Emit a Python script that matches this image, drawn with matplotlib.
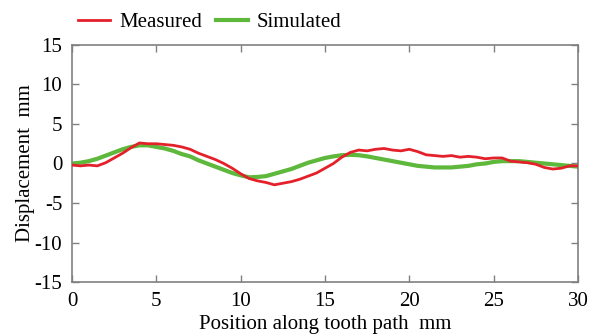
import matplotlib
matplotlib.use('Agg')
import matplotlib.pyplot as plt

plt.rcParams['font.family'] = ['Liberation Serif', 'DejaVu Serif']
plt.rcParams['axes.unicode_minus'] = False

# position along tooth path, mm (0.5 mm steps)
position = [i * 0.5 for i in range(61)]

# measured displacement, mm
measured = [-0.2, -0.3, -0.2, -0.3, 0.1, 0.7, 1.3, 2.0, 2.6, 2.5,
            2.5, 2.4, 2.3, 2.1, 1.8, 1.3, 0.9, 0.5, 0.0, -0.6,
            -1.3, -1.9, -2.2, -2.4, -2.7, -2.5, -2.3, -2.0, -1.6, -1.2,
            -0.6, 0.0, 0.8, 1.4, 1.7, 1.6, 1.8, 1.9, 1.7, 1.6,
            1.8, 1.5, 1.1, 1.0, 0.9, 1.0, 0.8, 0.9, 0.8, 0.6,
            0.7, 0.7, 0.3, 0.2, 0.1, -0.1, -0.5, -0.7, -0.6, -0.3,
            -0.3]

# simulated displacement, mm
simulated = [0.0, 0.1, 0.3, 0.6, 1.0, 1.4, 1.8, 2.1, 2.3, 2.3,
             2.1, 1.9, 1.6, 1.2, 0.9, 0.4, 0.0, -0.4, -0.8, -1.2,
             -1.5, -1.75, -1.7, -1.6, -1.3, -1.0, -0.7, -0.3, 0.1, 0.4,
             0.7, 0.9, 1.05, 1.1, 1.05, 0.9, 0.7, 0.5, 0.3, 0.1,
             -0.1, -0.3, -0.4, -0.5, -0.5, -0.5, -0.4, -0.3, -0.1, 0.0,
             0.2, 0.3, 0.3, 0.3, 0.2, 0.1, 0.0, -0.1, -0.2, -0.3,
             -0.4]

fig = plt.figure(figsize=(5.96, 3.35), dpi=100)
ax = fig.add_axes([0.1208, 0.1582, 0.849, 0.7075])

ax.plot(position, simulated, color='#5db83c', linewidth=3.0, label='Simulated', zorder=2)
ax.plot(position, measured, color='#e4202a', linewidth=2.0, label='Measured', zorder=3)

ax.set_xlim(0, 30)
ax.set_ylim(-15, 15)
ax.set_xticks(range(0, 31, 5))
ax.set_yticks(range(-15, 16, 5))

for s in ax.spines.values():
    s.set_color('#808080')
    s.set_linewidth(1.2)
ax.tick_params(direction='in', length=5, width=1, color='#808080',
               top=True, right=True, labelsize=15)
ax.tick_params(axis='x', pad=7)
ax.tick_params(axis='y', pad=7)

ax.set_xlabel('Position along tooth path  mm', fontsize=15, labelpad=3)
ax.set_ylabel('Displacement  mm', fontsize=15, labelpad=0)

handles, labels = ax.get_legend_handles_labels()
ax.legend(handles[::-1], labels[::-1], ncol=2, frameon=False, fontsize=15,
          loc='lower left', bbox_to_anchor=(-0.004, 1.018), handlelength=1.5,
          handletextpad=0.45, columnspacing=0.7, borderaxespad=0.0)

fig.savefig('out.png', dpi=100)
